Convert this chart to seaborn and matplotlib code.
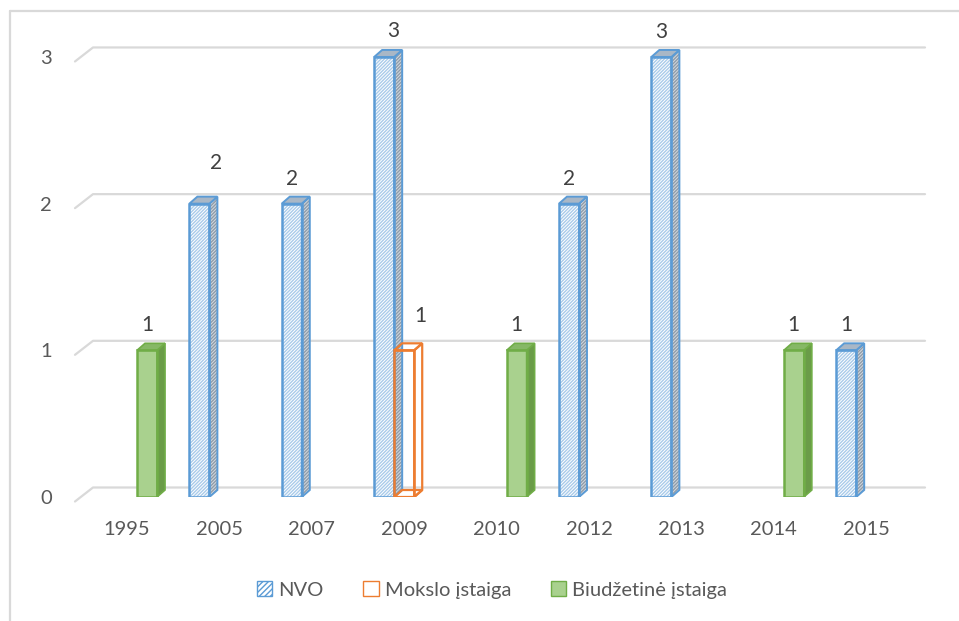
import numpy as np
import pandas as pd
import matplotlib
matplotlib.use("Agg")
import matplotlib.pyplot as plt
import seaborn as sns
from matplotlib.patches import Polygon, Rectangle, Patch
from matplotlib.lines import Line2D
from matplotlib.transforms import IdentityTransform

# ---------------- data ----------------
years = ["1995", "2005", "2007", "2009", "2010", "2012", "2013", "2014", "2015"]
nvo = [np.nan, 2, 2, 3, np.nan, 2, 3, np.nan, 1]
mokslo = [np.nan, np.nan, np.nan, 1, np.nan, np.nan, np.nan, np.nan, np.nan]
biudzetine = [1, np.nan, np.nan, np.nan, 1, np.nan, np.nan, 1, np.nan]
series_names = ["NVO", "Mokslo įstaiga", "Biudžetinė įstaiga"]
y_ticks = [0, 1, 2, 3]

# ---------------- style ----------------
sns.set_theme(style="white")
plt.rcParams["font.family"] = ["Lato", "DejaVu Sans"]
plt.rcParams["hatch.linewidth"] = 1.0

W, H = 959, 621
fig = plt.figure(figsize=(W / 100, H / 100), dpi=100)
fig.patch.set_facecolor("white")

ax_left, ax_right = 80.8, 912.4
ax_bottom, ax_top = 497, 20
ax = fig.add_axes([ax_left / W, 1 - ax_bottom / H, (ax_right - ax_left) / W, (ax_bottom - ax_top) / H])

df = pd.DataFrame({"Metai": years, series_names[0]: nvo,
                   series_names[1]: mokslo, series_names[2]: biudzetine})
long = df.melt(id_vars="Metai", var_name="Tipas", value_name="Kiekis").dropna()

sns.barplot(data=long, x="Metai", y="Kiekis", hue="Tipas", order=years,
            hue_order=series_names, palette=["#ffffff", "#ffffff", "#a9d18e"],
            width=0.65, dodge=True, legend=False, saturation=1, ax=ax)

ymax = 3.252
ax.set_xlim(-0.5, len(years) - 0.5)
ax.set_ylim(0, ymax)

px_per_x = (ax_right - ax_left) / len(years)
px_per_y = (ax_bottom - ax_top) / ymax
dx = 8 / px_per_x
dy = 7 / px_per_y

BLUE = "#5b9bd5"
ORANGE = "#ed7d31"
GREEN_E = "#70ad47"
HATCH = "//////////"

# label shifts (pixels) for a few labels placed off-center in the original
label_shift = {("2005", 0): (17, 16), ("2009", 0): (9, 1), ("2009", 1): (16, 9)}

patches = [p for p in ax.patches if isinstance(p, Rectangle) and p.get_height() > 0]
patches.sort(key=lambda p: p.get_x())
for i, p in enumerate(patches):
    x0, w, h = p.get_x(), p.get_width(), p.get_height()
    c = x0 + w / 2
    cat = int(round(c))
    k = int(round((c - cat) / w)) + 1
    z = 3 + i * 0.1
    front = [(x0, 0), (x0 + w, 0), (x0 + w, h), (x0, h)]
    side = [(x0 + w, 0), (x0 + w + dx, dy), (x0 + w + dx, h + dy), (x0 + w, h)]
    top = [(x0, h), (x0 + dx, h + dy), (x0 + w + dx, h + dy), (x0 + w, h)]
    bottom = [(x0, 0), (x0 + dx, dy), (x0 + w + dx, dy), (x0 + w, 0)]
    p.set_zorder(z)
    if k == 0:
        p.set_facecolor("white"); p.set_edgecolor("#a9cbea"); p.set_hatch(HATCH); p.set_linewidth(0)
        ax.add_patch(Polygon(side, closed=True, facecolor="#d3d9df", edgecolor="#8f9caa",
                             hatch=HATCH, lw=0, zorder=z + 0.01))
        ax.add_patch(Polygon(side, closed=True, fill=False, edgecolor=BLUE, lw=1.4, zorder=z + 0.02))
        ax.add_patch(Polygon(top, closed=True, facecolor="#a9b7c6", edgecolor=BLUE, lw=1.4, zorder=z + 0.02))
        ax.add_patch(Polygon(front, closed=True, fill=False, edgecolor=BLUE, lw=1.8, zorder=z + 0.03))
    elif k == 1:
        p.set_facecolor("none"); p.set_edgecolor(ORANGE); p.set_linewidth(0)
        for poly in (bottom, side, top):
            ax.add_patch(Polygon(poly, closed=True, fill=False, edgecolor=ORANGE, lw=1.6, zorder=z + 0.01))
        ax.add_patch(Polygon(front, closed=True, fill=False, edgecolor=ORANGE, lw=1.8, zorder=z + 0.03))
    else:
        p.set_facecolor("#a9d18e"); p.set_edgecolor(GREEN_E); p.set_linewidth(0)
        ax.add_patch(Polygon(side, closed=True, facecolor="#6a9c48", edgecolor=GREEN_E, lw=1.2, zorder=z + 0.01))
        ax.add_patch(Polygon(top, closed=True, facecolor="#86b866", edgecolor=GREEN_E, lw=1.2, zorder=z + 0.01))
        ax.add_patch(Polygon(front, closed=True, fill=False, edgecolor=GREEN_E, lw=1.8, zorder=z + 0.03))
    sx, sy = label_shift.get((years[cat], k), (0, 0))
    ax.annotate(f"{h:g}", xy=(c, h), xytext=(sx, 25 + sy), textcoords="offset pixels",
                ha="center", va="center", fontsize=15, color="#404040", zorder=10)

# 3D-style gridlines (floor/back wall)
fig.canvas.draw()
ytr = ax.get_yaxis_transform()
for v in y_ticks:
    (_, yd), = ytr.transform([(0, v)])
    x_a = 75; x_b = 93; x_c = 925
    ax.add_line(Line2D([x_a, x_b, x_c], [yd - 4.5, yd + 9.5, yd + 9.5], transform=IdentityTransform(),
                       color="#d9d9d9", lw=1.6, clip_on=False, zorder=1))

ax.set_yticks(y_ticks)
ax.set_yticklabels([str(t) for t in y_ticks])
ax.tick_params(axis="y", length=0, pad=21, labelsize=14.5, labelcolor="#595959")
ax.tick_params(axis="x", length=0, pad=17, labelsize=14.5, labelcolor="#595959")
ax.set_xlabel("")
ax.set_ylabel("")
ax.grid(False)
for s in ax.spines.values():
    s.set_visible(False)
ax.patch.set_alpha(0)

# outer frame (top and left edges visible)
fig.add_artist(Line2D([10 / W, 1], [1 - 11 / H] * 2, transform=fig.transFigure, color="#d9d9d9", lw=1.6))
fig.add_artist(Line2D([10 / W] * 2, [0, 1 - 11 / H], transform=fig.transFigure, color="#d9d9d9", lw=1.6))

handles = [
    Patch(facecolor="white", edgecolor=BLUE, hatch="//////", label=series_names[0]),
    Patch(facecolor="white", edgecolor=ORANGE, label=series_names[1]),
    Patch(facecolor="#a9d18e", edgecolor=GREEN_E, label=series_names[2]),
]
fig.legend(handles=handles, loc="center", bbox_to_anchor=(0.513, 1 - 590 / H), ncol=3, frameon=False,
           fontsize=14.5, handlelength=0.75, handleheight=0.75, handletextpad=0.3, columnspacing=2.0,
           labelcolor="#595959")

fig.savefig("out.png", dpi=100, facecolor="white")
